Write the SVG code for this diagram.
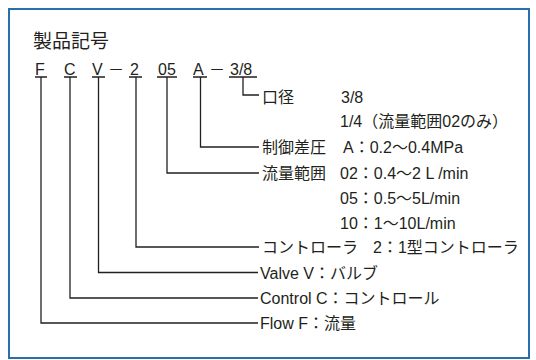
<svg xmlns="http://www.w3.org/2000/svg" width="536" height="360" viewBox="0 0 536 360">
<style>
text{font-family:"Liberation Sans","Noto Sans CJK JP",sans-serif;fill:#231f20;font-size:16px}
.code{font-size:16px}
.title{font-size:19px}
.ln{stroke:#231f20;stroke-width:1.3;fill:none}
</style>
<rect x="0" y="0" width="536" height="360" fill="#fff"/>
<rect x="9" y="9" width="520" height="349" fill="#fff" stroke="#2a6fad" stroke-width="2"/>
<g id="title"><text class="title" x="33" y="48">製品記号</text></g>
<g id="code">
<text class="code" x="35" y="75">F</text>
<text class="code" x="64" y="75">C</text>
<text class="code" x="92" y="75">V</text>
<text class="code" x="116" y="75" text-anchor="middle">－</text>
<text class="code" x="130" y="75">2</text>
<text class="code" x="158" y="75">05</text>
<text class="code" x="193" y="75">A</text>
<text class="code" x="217" y="75" text-anchor="middle">－</text>
<text class="code" x="230" y="75">3/8</text>
</g>
<g id="connectors" class="ln">
<path d="M35 77H47M64 77H77M92 77H105M129 77H142M157 77H177M193 77H207M229 77H257"/>
<path d="M243 77V95H259"/>
<path d="M200.5 77V147H259"/>
<path d="M167 77V173H259"/>
<path d="M136 77V247H259"/>
<path d="M98.5 77V272.5H258"/>
<path d="M70 77V298H258"/>
<path d="M41 77V323H258"/>
</g>
<g id="node-bore">
<text x="262" y="102.5">口径</text>
<text x="341" y="102.5">3/8</text>
<text x="340" y="127">1/4（流量範囲02のみ）</text>
</g>
<g id="node-pressure">
<text x="262" y="153">制御差圧</text>
<text x="343" y="153">A：0.2〜0.4MPa</text>
</g>
<g id="node-flowrange">
<text x="262" y="179">流量範囲</text>
<text x="340" y="179">02：0.4〜2 L /min</text>
<text x="340" y="204">05：0.5〜5L/min</text>
<text x="340" y="229">10：1〜10L/min</text>
</g>
<g id="node-controller">
<text x="262" y="253">コントローラ</text>
<text x="373" y="253">2：1型コントローラ</text>
</g>
<g id="node-valve"><text x="260" y="278.5">Valve V：バルブ</text></g>
<g id="node-control"><text x="260" y="304">Control C：コントロール</text></g>
<g id="node-flow"><text x="260" y="329">Flow F：流量</text></g>
</svg>
